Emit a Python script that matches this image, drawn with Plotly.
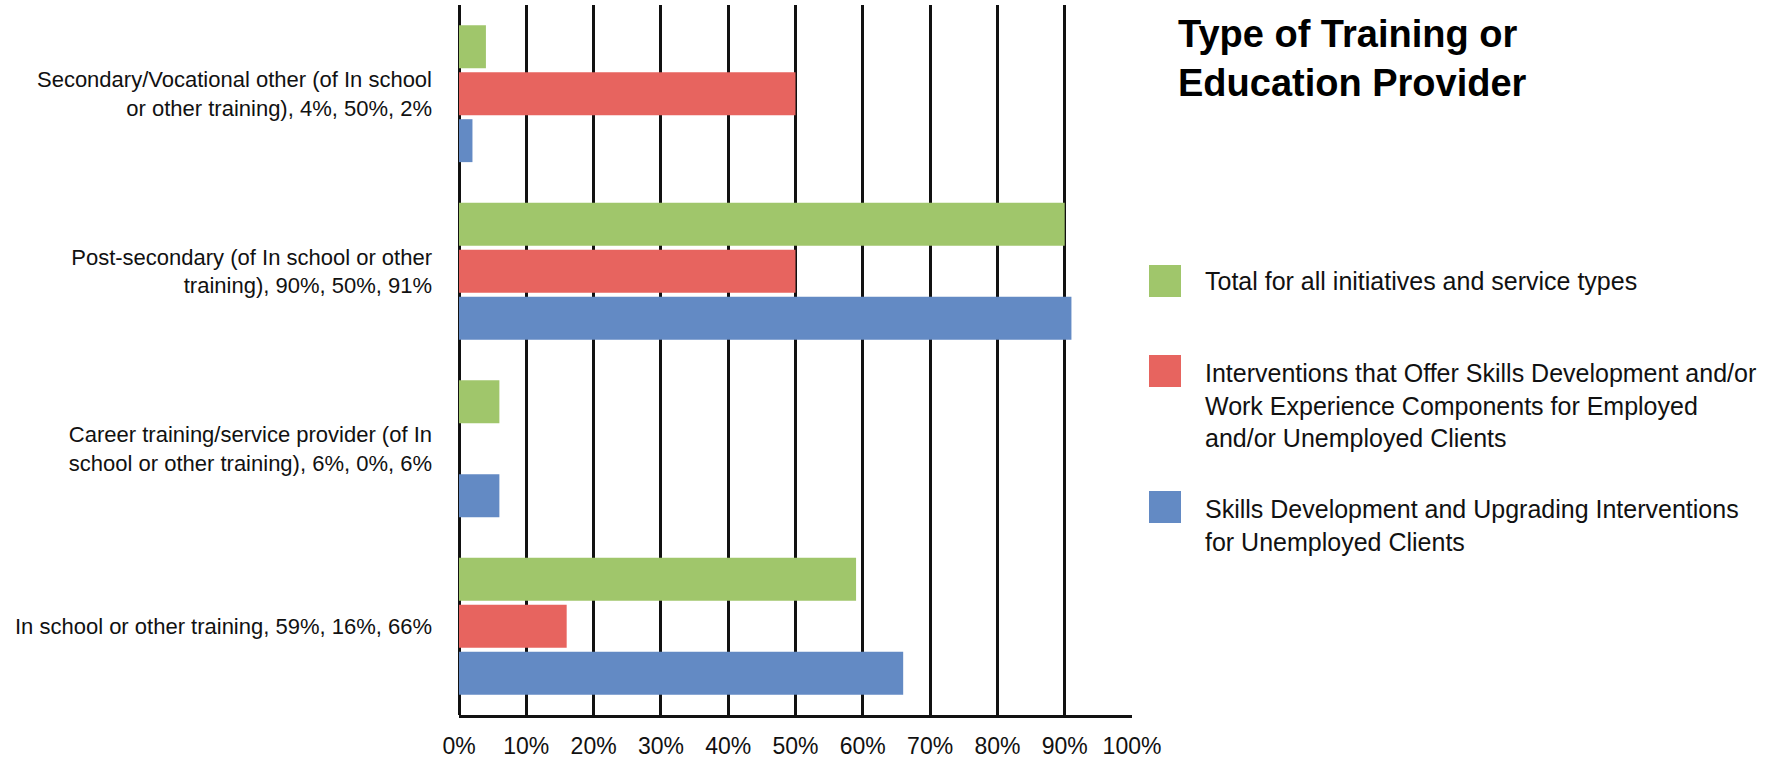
import plotly.graph_objects as go

categories = [
    "Secondary/Vocational other (of In school<br>or other training), 4%, 50%, 2%",
    "Post-secondary (of In school or other<br>training), 90%, 50%, 91%",
    "Career training/service provider (of In<br>school or other training), 6%, 0%, 6%",
    "In school or other training, 59%, 16%, 66%",
]
series_names = [
    "Total for all initiatives and service types",
    "Interventions that Offer Skills Development and/or<br>Work Experience Components for Employed<br>and/or Unemployed Clients",
    "Skills Development and Upgrading Interventions<br>for Unemployed Clients",
]
total_all = [0.04, 0.90, 0.06, 0.59]
skills_work_exp = [0.50, 0.50, 0.00, 0.16]
skills_unemployed = [0.02, 0.91, 0.06, 0.66]
series_values = [total_all, skills_work_exp, skills_unemployed]
colors = ["#A0C66B", "#E7645F", "#638AC4"]
x_ticks = [i / 10 for i in range(11)]
x_tick_labels = [f"{i*10}%" for i in range(11)]
title_text = "Type of Training or<br>Education Provider"

FONT = "Liberation Sans, Arial, sans-serif"
W, H = 1777, 758
PL, PR, PT, PB = 459, 1132, 5, 715

fig = go.Figure()
for name, vals, col in zip(series_names, series_values, colors):
    fig.add_trace(go.Bar(y=categories, x=vals, orientation="h", name=name,
                         marker=dict(color=col, line=dict(width=0)),
                         showlegend=False))

def px(x):
    return (x - PL) / (PR - PL)

def py(y):
    return (PB - y) / (PB - PT)

shapes = []
annotations = []
sw_tops = [265, 355, 491]
text_centers = [281, 405, 525]
for i, (name, col) in enumerate(zip(series_names, colors)):
    shapes.append(dict(type="rect", xref="paper", yref="paper",
                       x0=px(1149), x1=px(1181), y0=py(sw_tops[i] + 32), y1=py(sw_tops[i]),
                       fillcolor=col, line=dict(width=0)))
    annotations.append(dict(text=name, xref="paper", yref="paper", x=px(1203), y=py(text_centers[i]),
                            xanchor="left", yanchor="middle", align="left", showarrow=False,
                            font=dict(family=FONT, size=25, color="#111111")))
annotations.append(dict(text="<b>" + title_text + "</b>", xref="paper", yref="paper",
                        x=px(1176), y=py(58), xanchor="left", yanchor="middle", align="left",
                        showarrow=False, font=dict(family=FONT, size=38, color="#000000")))

fig.update_layout(
    width=W, height=H,
    margin=dict(l=PL, r=W - PR, t=PT, b=H - PB, pad=0),
    paper_bgcolor="white", plot_bgcolor="white",
    barmode="group", bargap=0.207, bargroupgap=0.085,
    shapes=shapes, annotations=annotations,
    font=dict(family=FONT, size=25, color="#111111"),
    xaxis=dict(range=[0, 1], tickvals=x_ticks, ticktext=x_tick_labels, automargin=False,
               showgrid=True, gridcolor="#111111", gridwidth=2.5,
               zeroline=True, zerolinecolor="#111111", zerolinewidth=2.5,
               showline=True, linecolor="#111111", linewidth=2.5,
               ticks="", ticklabelstandoff=9,
               tickfont=dict(family=FONT, size=23, color="#111111")),
    yaxis=dict(autorange="reversed", showgrid=False, zeroline=False, showline=False, automargin=False,
               ticks="", ticklabelstandoff=26,
               tickfont=dict(family=FONT, size=22, color="#111111")),
)

fig.write_html("out.html")
